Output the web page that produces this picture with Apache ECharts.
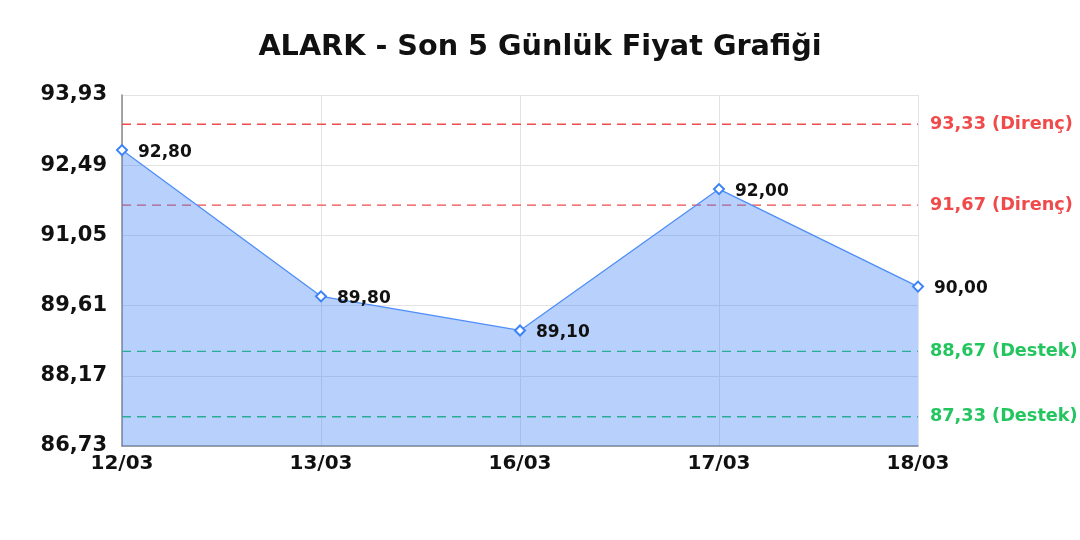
<!DOCTYPE html>
<html>
<head>
<meta charset="utf-8">
<script src="https://cdn.jsdelivr.net/npm/echarts@6/dist/echarts.min.js"></script>
<style>
  html, body { margin: 0; padding: 0; background: #fff; }
  #container { width: 1080px; height: 540px; }
</style>
</head>
<body>
<div id="container"></div>
<script>
var dom = document.getElementById('container');
var myChart = echarts.init(dom, null, { renderer: 'canvas' });

// veriler
var dates = ['12/03', '13/03', '16/03', '17/03', '18/03'];
var prices = [92.80, 89.80, 89.10, 92.00, 90.00];
var resistLevels = [93.33, 91.67];
var supportLevels = [88.67, 87.33];
var yMin = 86.73;
var yMax = 93.93;
var yStep = 1.44;

var FONT = "'DejaVu Sans'";

function fmt(v) {
    return v.toFixed(2).replace('.', ',');
}

// her seviye için yatay kesikli çizgi
function levelSeries(v, name, color) {
    return {
        type: 'line',
        data: dates.map(function () { return v; }),
        silent: true,
        symbol: 'none',
        z: 4,
        lineStyle: { color: color, type: [9, 6], width: 1.3 },
        endLabel: {
            show: true,
            distance: 12,
            color: color,
            fontFamily: FONT, fontWeight: 'bold', fontSize: 17.7,
            formatter: function () { return fmt(v) + ' (' + name + ')'; }
        }
    };
}

var series = [{
    type: 'line',
    data: prices,
    symbol: 'diamond',
    symbolSize: 10,
    showAllSymbol: true,
    z: 5,
    itemStyle: { color: '#fff', borderColor: '#3b82f6', borderWidth: 2 },
    lineStyle: { color: '#4f8ef7', width: 1.3 },
    areaStyle: { color: '#3b82f6', opacity: 0.37, origin: 'start' },
    label: {
        show: true,
        position: 'right',
        distance: 10,
        offset: [0, 2],
        fontFamily: FONT, fontWeight: 'bold', fontSize: 17, color: '#111',
        formatter: function (p) { return fmt(p.value); }
    }
}];
resistLevels.forEach(function (v) { series.push(levelSeries(v, 'Direnç', '#f04a4a')); });
supportLevels.forEach(function (v) { series.push(levelSeries(v, 'Destek', '#22c55e')); });

var option = {
    backgroundColor: '#fff',
    animation: false,
    title: {
        text: 'ALARK - Son 5 Günlük Fiyat Grafiği',
        left: 'center',
        top: 28,
        textStyle: { fontFamily: FONT, fontWeight: 'bold', fontSize: 28.7, color: '#111' }
    },
    grid: { left: 122, right: 162, top: 95, bottom: 94 },
    xAxis: {
        type: 'category',
        data: dates,
        boundaryGap: false,
        axisLine: { lineStyle: { color: '#888', width: 1.5 } },
        axisTick: { show: false },
        axisLabel: { fontFamily: FONT, fontWeight: 'bold', fontSize: 20, color: '#111', margin: 8 },
        splitLine: { show: true, lineStyle: { color: '#e3e3e3' } }
    },
    yAxis: {
        type: 'value',
        min: yMin,
        max: yMax,
        interval: yStep,
        axisLine: { show: true, lineStyle: { color: '#888', width: 1.5 } },
        axisTick: { show: false },
        axisLabel: {
            fontFamily: FONT, fontWeight: 'bold', fontSize: 21, color: '#111', margin: 15,
            formatter: function (v) { return fmt(v); }
        },
        splitLine: { show: true, lineStyle: { color: '#e3e3e3' } }
    },
    series: series
};

myChart.setOption(option);
</script>
</body>
</html>
